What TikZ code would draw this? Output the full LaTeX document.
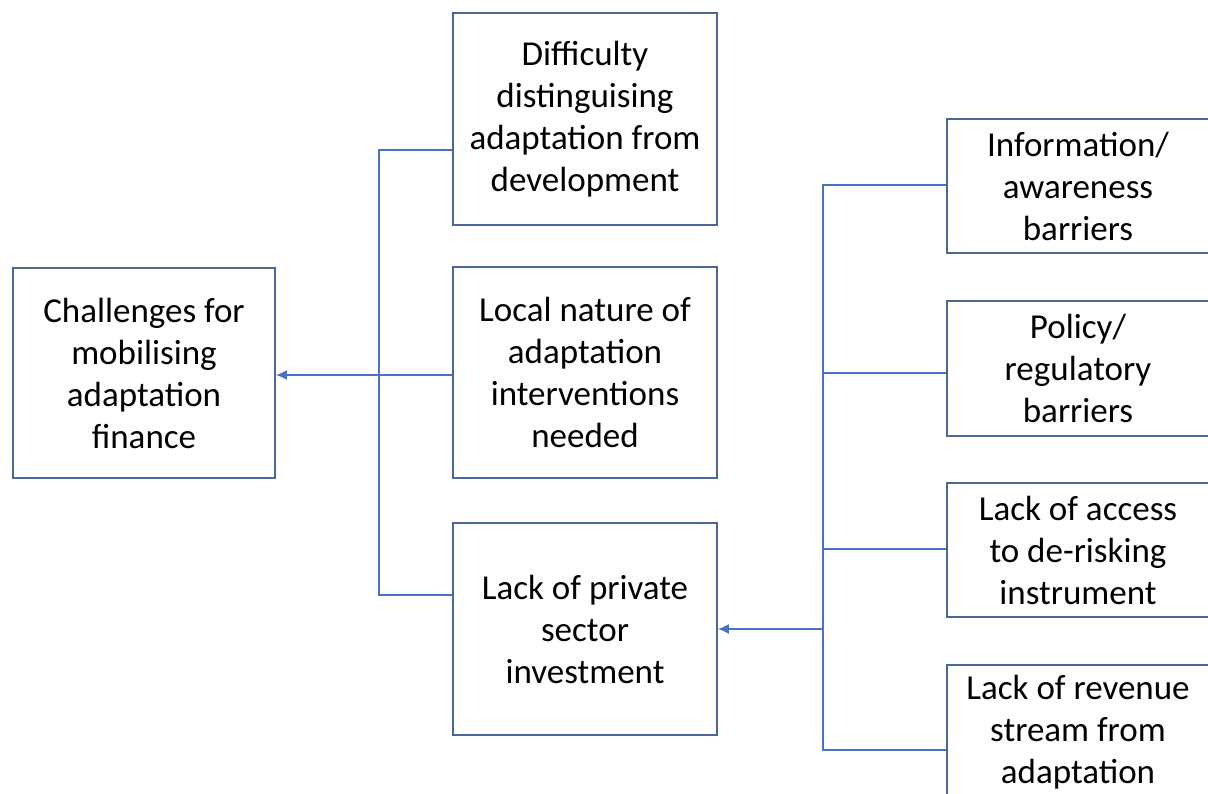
\documentclass[tikz,border=0pt]{standalone}
\usepackage{fontspec}
\setmainfont{Carlito}
\usetikzlibrary{arrows.meta}
\definecolor{boxc}{HTML}{4A669C}
\definecolor{linec}{HTML}{4A72C4}
\tikzset{
  box/.style={draw=boxc, line width=1.8pt, align=center, inner sep=0pt,
    font=\fontsize{35}{42}\selectfont, text=black},
  conn/.style={draw=linec, line width=1.5pt},
  arr/.style={conn, -{Latex[length=11pt,width=10pt]}},
}
\begin{document}
\begin{tikzpicture}[x=1pt,y=-1pt]
\useasboundingbox (0,0) rectangle (1208,794);
\clip (0,0) rectangle (1208,794);
\node[box, minimum width=262pt, minimum height=210pt] (A) at (144,373) {Challenges for\\mobilising\\adaptation\\finance};
\node[box, minimum width=264pt, minimum height=212pt] (B) at (585,119) {Difficulty\\distinguising\\adaptation from\\development};
\node[box, minimum width=264pt, minimum height=211pt] (C) at (585,372.5) {Local nature of\\adaptation\\interventions\\needed};
\node[box, minimum width=264pt, minimum height=212pt] (D) at (585,629) {Lack of private\\sector\\investment};
\node[box, minimum width=262pt, minimum height=134pt] (E) at (1078,186) {Information/\\awareness\\barriers};
\node[box, minimum width=262pt, minimum height=135pt] (F) at (1078,368.5) {Policy/\\regulatory\\barriers};
\node[box, minimum width=262pt, minimum height=134pt] (G) at (1078,550) {Lack of access\\to de-risking\\instrument};
\node[box, minimum width=262pt, minimum height=134pt] (H) at (1078,732) {Lack of revenue\\stream from\\adaptation};
% left tree
\coordinate (lt) at (379,150);
\coordinate (lb) at (379,595);
\draw[conn] (B.west |- lt) -- (lt) -- (lb) -- (D.west |- lb);
\draw[arr] (C.west |- 0,375) -- (A.east |- 0,375);
% right tree
\coordinate (rt) at (823,185);
\coordinate (rb) at (823,750);
\coordinate (rf) at (823,373);
\coordinate (rg) at (823,549);
\coordinate (rd) at (823,629);
\draw[conn] (E.west |- rt) -- (rt) -- (rb) -- (H.west |- rb);
\draw[conn] (F.west |- rf) -- (rf);
\draw[conn] (G.west |- rg) -- (rg);
\draw[arr] (rd) -- (D.east |- rd);
\end{tikzpicture}
\end{document}
